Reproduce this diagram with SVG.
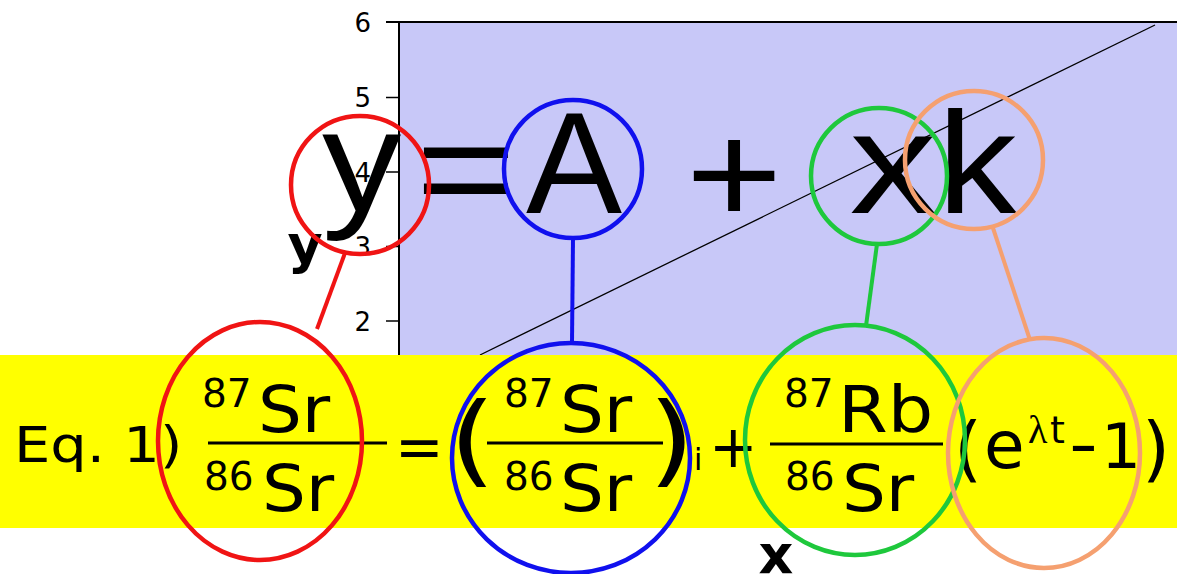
<svg xmlns="http://www.w3.org/2000/svg" width="1177" height="574" viewBox="0 0 1177 574">
  <style>
    .axis { stroke: #000; stroke-width: 2; fill: none; }
    .tick { stroke: #000; stroke-width: 1.5; }
    .ticklbl { font-family: "DejaVu Sans", sans-serif; font-size: 26px; fill: #000; text-anchor: end; }
    .axlbl { font-family: "DejaVu Sans", sans-serif; font-weight: bold; fill: #000; text-anchor: middle; }
    .big { font-family: "Liberation Sans", Arial, sans-serif; font-size: 144px; fill: #000; text-anchor: middle; }
    .eq { font-family: "DejaVu Sans", Verdana, sans-serif; fill: #000; }
    .sup { font-size: 39px; }
    .el { font-size: 64px; }
    .bar { stroke: #000; stroke-width: 3; }
    .ring { fill: none; stroke-width: 4.5; }
    .red { stroke: #f01414; }
    .blue { stroke: #1010ee; }
    .green { stroke: #1ec83c; }
    .orange { stroke: #f5a070; }
    .conn line { stroke-width: 4; }
  </style>

  <rect width="1177" height="574" fill="#fff"/>

  <g id="plot">
    <rect x="399" y="22" width="778" height="333" fill="#c8c8f8"/>
    <line class="axis" x1="386" y1="22" x2="1177" y2="22"/>
    <line class="axis" x1="399" y1="22" x2="399" y2="355"/>
    <line class="tick" x1="386" y1="97.5" x2="399" y2="97.5"/>
    <line class="tick" x1="386" y1="172" x2="399" y2="172"/>
    <line class="tick" x1="386" y1="246.5" x2="399" y2="246.5"/>
    <line class="tick" x1="386" y1="321" x2="399" y2="321"/>
    <text class="ticklbl" x="371" y="32">6</text>
    <text class="ticklbl" x="371" y="107">5</text>
    <text class="ticklbl" x="371" y="182" fill="#555">4</text>
    <text class="ticklbl" x="371" y="256">3</text>
    <text class="ticklbl" x="371" y="331">2</text>
    <line x1="480" y1="355" x2="1155" y2="25" stroke="#000" stroke-width="1.3"/>
    <text class="axlbl" x="305" y="263" font-size="54">y</text>
  </g>

  <g id="band">
    <rect x="0" y="355" width="1177" height="173" fill="#ffff00"/>
    <text class="axlbl" x="776" y="573" font-size="54">x</text>
  </g>

  <g id="top-equation">
    <text class="big" transform="translate(361.5,211) scale(1.1,1)">y</text>
    <text class="big" transform="translate(466,218) scale(1.2,1)">=</text>
    <text class="big" x="574" y="213">A</text>
    <text class="big" transform="translate(734,224) scale(1.15,1)" font-size="184">+</text>
    <text class="big" transform="translate(893,213) scale(1.21,1)" font-size="150">x</text>
    <text class="big" transform="translate(977,213) scale(1.1,1)">k</text>
  </g>

  <g id="bottom-equation">
    <text class="eq" transform="translate(14,462) scale(1.15,1)" font-size="50">Eq. 1)</text>
    <text class="eq" x="395" y="467" font-size="58">=</text>
    <text class="eq" transform="translate(449,474) scale(1.2,1)" font-size="100">(</text>
    <text class="eq" transform="translate(648,474) scale(1.2,1)" font-size="100">)</text>
    <text class="eq" x="694" y="470" font-size="30">i</text>
    <text class="eq" x="709" y="467" font-size="58">+</text>
    <text class="eq" x="954" y="473" font-size="72">(</text>
    <text class="eq" x="984" y="468" font-size="66">e</text>
    <text x="1028" y="443" font-size="40" font-family="Liberation Serif, serif">λ</text>
    <text class="eq" x="1050" y="443" font-size="38">t</text>
    <text class="eq" transform="translate(1069,466) scale(1.25,1)" font-size="64">-</text>
    <text class="eq" x="1101" y="468" font-size="63">1</text>
    <text class="eq" x="1142" y="473" font-size="72">)</text>
  </g>

  <g id="node-y">
    <text class="eq sup" x="202" y="407">87</text>
    <text class="eq el" transform="translate(258,432) scale(1.08,1)">Sr</text>
    <line class="bar" x1="208" y1="443" x2="387" y2="443"/>
    <text class="eq sup" x="204" y="490">86</text>
    <text class="eq el" transform="translate(262,511) scale(1.08,1)">Sr</text>
    <circle class="ring red" cx="360" cy="185" r="69"/>
    <ellipse class="ring red" cx="260" cy="441" rx="102" ry="119"/>
  </g>

  <g id="node-A">
    <text class="eq sup" x="504" y="407">87</text>
    <text class="eq el" transform="translate(560,432) scale(1.08,1)">Sr</text>
    <line class="bar" x1="487" y1="443" x2="663" y2="443"/>
    <text class="eq sup" x="504" y="490">86</text>
    <text class="eq el" transform="translate(560,511) scale(1.08,1)">Sr</text>
    <circle class="ring blue" cx="573" cy="169" r="69"/>
    <ellipse class="ring blue" cx="571" cy="458" rx="119" ry="115"/>
  </g>

  <g id="node-x">
    <text class="eq sup" x="784" y="407">87</text>
    <text class="eq el" transform="translate(838,432) scale(1.12,1)">Rb</text>
    <line class="bar" x1="770" y1="444" x2="943" y2="444"/>
    <text class="eq sup" x="785" y="490">86</text>
    <text class="eq el" transform="translate(842,511) scale(1.08,1)">Sr</text>
    <circle class="ring green" cx="879" cy="176" r="68"/>
    <ellipse class="ring green" cx="855" cy="440" rx="110" ry="115"/>
  </g>

  <g id="node-k">
    <circle class="ring orange" cx="974" cy="160" r="69"/>
    <ellipse class="ring orange" cx="1044" cy="453" rx="96" ry="115"/>
  </g>

  <g id="connectors" class="conn">
    <line class="red" x1="345" y1="253" x2="317" y2="329"/>
    <line class="blue" x1="573" y1="238" x2="572" y2="343"/>
    <line class="green" x1="877" y1="244" x2="866" y2="326"/>
    <line class="orange" x1="993" y1="228" x2="1030" y2="340"/>
  </g>
</svg>
